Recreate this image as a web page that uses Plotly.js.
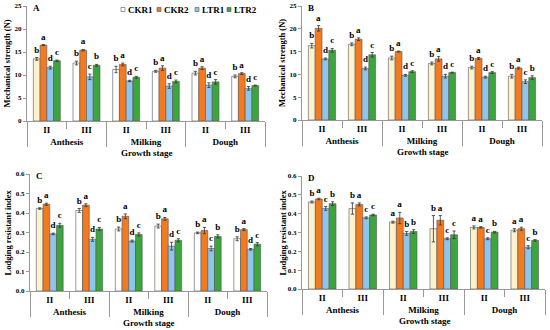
<!DOCTYPE html>
<html><head><meta charset="utf-8">
<script src="https://cdn.plot.ly/plotly-3.0.1.min.js"></script>
<style>html,body{margin:0;padding:0;background:#fff}#chart{width:550px;height:330px}</style>
</head><body><div id="chart"></div>
<script>
// ---- data ----
const stages = ['Anthesis','Anthesis','Milking','Milking','Dough','Dough'];
const levels = ['II','III','II','III','II','III'];
const seriesNames = ['CKR1','CKR2','LTR1','LTR2'];
const panelLabels = ['A','B','C','D'];
const xTitle = 'Growth stage';
const yTitles = ['Mechanical strength (N)','Mechanical strength (N)','Lodging resistant index','Lodging resistant index'];

// Panel A: mechanical strength
const A_CKR1 = [13.5,12.6,11.2,10.8,10.4,9.7];
const A_CKR2 = [16.5,15.4,12.3,11.5,11.5,10.3];
const A_LTR1 = [11.6,9.6,8.7,7.6,7.8,7.1];
const A_LTR2 = [13.1,12.1,9.5,8.6,8.5,7.7];
const A_CKR1_err = [0.3,0.4,0.7,0.2,0.4,0.3];
const A_CKR2_err = [0.1,0.15,0.3,0.5,0.3,0.2];
const A_LTR1_err = [0.3,0.6,0.15,0.5,0.5,0.4];
const A_LTR2_err = [0.15,0.2,0.2,0.3,0.5,0.1];
const A_CKR1_sig = ['b','b','b','b','b','b'];
const A_CKR2_sig = ['a','a','a','a','a','a'];
const A_LTR1_sig = ['d','c','d','d','d','d'];
const A_LTR2_sig = ['c','b','c','c','c','c'];

// Panel B: mechanical strength
const B_CKR1 = [16.3,16.6,13.6,12.4,11.5,9.6];
const B_CKR2 = [20.1,17.7,15.0,13.4,13.5,11.4];
const B_LTR1 = [13.4,11.3,9.8,9.6,9.4,8.4];
const B_LTR2 = [15.3,14.3,10.6,10.4,10.4,9.3];
const B_CKR1_err = [0.5,0.3,0.4,0.3,0.3,0.4];
const B_CKR2_err = [0.6,0.3,0.1,0.5,0.2,0.2];
const B_LTR1_err = [0.2,0.3,0.2,0.4,0.2,0.4];
const B_LTR2_err = [0.4,0.5,0.2,0.1,0.2,0.4];
const B_CKR1_sig = ['b','b','b','b','b','b'];
const B_CKR2_sig = ['a','a','a','a','a','a'];
const B_LTR1_sig = ['d','d','d','d','d','c'];
const B_LTR2_sig = ['c','c','c','c','c','b'];

// Panel C: lodging resistant index
const C_CKR1 = [0.423,0.413,0.318,0.333,0.298,0.268];
const C_CKR2 = [0.445,0.440,0.383,0.370,0.310,0.315];
const C_LTR1 = [0.293,0.265,0.256,0.230,0.218,0.214];
const C_LTR2 = [0.337,0.318,0.290,0.260,0.280,0.240];
const C_CKR1_err = [0.004,0.010,0.010,0.010,0.004,0.010];
const C_CKR2_err = [0.005,0.007,0.012,0.007,0.016,0.005];
const C_LTR1_err = [0.004,0.010,0.005,0.020,0.012,0.004];
const C_LTR2_err = [0.010,0.008,0.008,0.008,0.008,0.008];
const C_CKR1_sig = ['b','b','b','b','b','b'];
const C_CKR2_sig = ['a','a','a','a','a','a'];
const C_LTR1_sig = ['d','d','d','d','c','d'];
const C_LTR2_sig = ['c','c','c','c','b','c'];

// Panel D: lodging resistant index
const D_CKR1 = [0.462,0.427,0.355,0.320,0.327,0.312];
const D_CKR2 = [0.478,0.449,0.377,0.365,0.327,0.320];
const D_LTR1 = [0.428,0.378,0.295,0.267,0.267,0.222];
const D_LTR2 = [0.453,0.393,0.305,0.288,0.302,0.258];
const D_CKR1_err = [0.005,0.030,0.005,0.070,0.008,0.008];
const D_CKR2_err = [0.004,0.008,0.030,0.025,0.004,0.008];
const D_LTR1_err = [0.010,0.005,0.010,0.005,0.005,0.008];
const D_LTR2_err = [0.010,0.004,0.010,0.020,0.004,0.004];
const D_CKR1_sig = ['b','b','a','b','a','a'];
const D_CKR2_sig = ['a','a','a','a','a','a'];
const D_LTR1_sig = ['c','c','b','c','c','c'];
const D_LTR2_sig = ['b','c','b','c','b','b'];

// ---- styling ----
const W = 550, H = 330;
const FONT = 'Liberation Serif, Times New Roman, serif';
const CREAM = '#FCF2CE', WHITE = '#FFFFFF';
const seriesColors = [null, '#F47A20', '#8EC5EC', '#3DA53D'];
const ckr1Fill = [
  [CREAM, WHITE, WHITE, WHITE, WHITE, WHITE],
  [CREAM, CREAM, CREAM, CREAM, CREAM, CREAM],
  [CREAM, WHITE, WHITE, WHITE, WHITE, WHITE],
  [CREAM, CREAM, CREAM, CREAM, CREAM, CREAM]
];
const panelData = [
  {vals:[A_CKR1,A_CKR2,A_LTR1,A_LTR2], errs:[A_CKR1_err,A_CKR2_err,A_LTR1_err,A_LTR2_err], sig:[A_CKR1_sig,A_CKR2_sig,A_LTR1_sig,A_LTR2_sig]},
  {vals:[B_CKR1,B_CKR2,B_LTR1,B_LTR2], errs:[B_CKR1_err,B_CKR2_err,B_LTR1_err,B_LTR2_err], sig:[B_CKR1_sig,B_CKR2_sig,B_LTR1_sig,B_LTR2_sig]},
  {vals:[C_CKR1,C_CKR2,C_LTR1,C_LTR2], errs:[C_CKR1_err,C_CKR2_err,C_LTR1_err,C_LTR2_err], sig:[C_CKR1_sig,C_CKR2_sig,C_LTR1_sig,C_LTR2_sig]},
  {vals:[D_CKR1,D_CKR2,D_LTR1,D_LTR2], errs:[D_CKR1_err,D_CKR2_err,D_LTR1_err,D_LTR2_err], sig:[D_CKR1_sig,D_CKR2_sig,D_LTR1_sig,D_LTR2_sig]}
];
// pixel boxes [left, right, top, bottom]
const boxes = [[27,265,6,121],[302,542,6,120],[30,267,174,291],[302,545,176,289]];
const yTitleX = [7, 282, 7, 282];
const yRanges = [[0,25],[0,25],[0,0.6],[0,0.6]];
const yDticks = [5,5,0.1,0.1];
const yFormats = ['','','.1f','.1f'];

const fx = p => p / W, fy = p => 1 - p / H;
const traces = [];
const layout = {
  width: W, height: H, margin:{l:0,r:0,t:0,b:0},
  paper_bgcolor:'#fff', plot_bgcolor:'#fff',
  barmode:'group', bargap:0.32, bargroupgap:0,
  showlegend:false, font:{family:FONT, color:'#000'},
  annotations:[], shapes:[]
};
const xcat = [stages, levels];

panelData.forEach((pd, p) => {
  const xa = p === 0 ? 'x' : 'x' + (p + 1);
  const ya = p === 0 ? 'y' : 'y' + (p + 1);
  const b = boxes[p];
  const tiny = (yRanges[p][1] - yRanges[p][0]) * 1e-5;
  pd.vals.forEach((v, k) => {
    const fill = k === 0 ? ckr1Fill[p] : seriesColors[k];
    traces.push({
      type:'bar', x:xcat, y:v, name:seriesNames[k], xaxis:xa, yaxis:ya,
      offsetgroup:String(k),
      marker:{color:fill, line:{color:'#555', width:0.6}},
      error_y:{type:'data', array:pd.errs[k], visible:true, color:'#333', thickness:0.8, width:1.6},
      hoverinfo:'skip'
    });
    // significance letters sitting on top of the error bars
    traces.push({
      type:'bar', x:xcat, base:v.map((val,i)=>val + pd.errs[k][i]), y:v.map(()=>tiny),
      xaxis:xa, yaxis:ya, offsetgroup:String(k),
      marker:{color:'rgba(0,0,0,0)', line:{width:0}},
      text:pd.sig[k], textposition:'outside', textangle:0, constraintext:'none', cliponaxis:false,
      textfont:{family:FONT, size:9, weight:'bold', color:'#000'},
      hoverinfo:'skip'
    });
  });
  const axKey = p === 0 ? '' : String(p + 1);
  layout['xaxis' + axKey] = {
    domain:[fx(b[0]), fx(b[1])], anchor:ya, type:'multicategory',
    showline:true, linecolor:'#999', linewidth:1,
    showdividers:true, dividercolor:'#999', dividerwidth:1,
    tickson:'boundaries', ticks:'outside', ticklen:7, tickcolor:'#999',
    tickfont:{family:FONT, size:9, weight:'bold', color:'#000'},
    showgrid:false, zeroline:false, fixedrange:true
  };
  layout['yaxis' + axKey] = {
    domain:[fy(b[3]), fy(b[2])], anchor:xa, range:yRanges[p], dtick:yDticks[p], tickformat:yFormats[p],
    showline:true, linecolor:'#999', linewidth:1, ticks:'outside', ticklen:3, tickcolor:'#999',
    tickfont:{family:FONT, size:7, weight:'bold', color:'#000'},
    showgrid:false, zeroline:false, fixedrange:true
  };
  // panel label
  layout.annotations.push({xref:'paper', yref:'paper', x:fx(b[0] + 4), y:fy(b[2] + 2), xanchor:'left', yanchor:'middle',
    text:'<b>' + panelLabels[p] + '</b>', showarrow:false, font:{family:FONT, size:9, color:'#000'}});
  // y title
  layout.annotations.push({xref:'paper', yref:'paper', x:fx(yTitleX[p]), y:fy((b[2] + b[3]) / 2), xanchor:'center', yanchor:'middle',
    textangle:-90, text:'<b>' + yTitles[p] + '</b>', showarrow:false, font:{family:FONT, size:8.5, color:'#000'}});
  // x title
  layout.annotations.push({xref:'paper', yref:'paper', x:fx((b[0] + b[1]) / 2 + 1), y:fy(b[3] + 32), xanchor:'center', yanchor:'middle',
    text:'<b>' + xTitle + '</b>', showarrow:false, font:{family:FONT, size:9, color:'#000'}});
});

// manual compact legend in panel A
const legX = [121, 157, 195, 227];
const legColors = [WHITE, seriesColors[1], seriesColors[2], seriesColors[3]];
seriesNames.forEach((n, k) => {
  layout.shapes.push({type:'rect', xref:'paper', yref:'paper', x0:fx(legX[k]), x1:fx(legX[k] + 4), y0:fy(11.5), y1:fy(7.5),
    fillcolor:legColors[k], line:{color:'#555', width:0.6}});
  layout.annotations.push({xref:'paper', yref:'paper', x:fx(legX[k] + 5), y:fy(9.5), xanchor:'left', yanchor:'middle',
    text:'<b>' + n + '</b>', showarrow:false, font:{family:FONT, size:9, color:'#000'}});
});

Plotly.newPlot('chart', traces, layout, {staticPlot:true, displayModeBar:false});
</script>
</body></html>
